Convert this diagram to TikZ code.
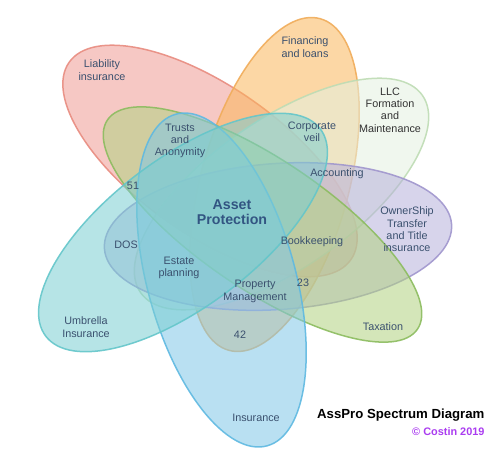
\documentclass[tikz,border=0pt]{standalone}
\usepackage{fontspec}
\setmainfont{Liberation Sans}
\usetikzlibrary{positioning}

\definecolor{lbl}{RGB}{58,80,110}
\definecolor{redF}{RGB}{239,155,148}  \definecolor{redD}{RGB}{232,140,128}
\definecolor{oraF}{RGB}{250,182,91}   \definecolor{oraD}{RGB}{240,172,90}
\definecolor{llcF}{RGB}{228,240,224}  \definecolor{llcD}{RGB}{190,220,180}
\definecolor{purF}{RGB}{182,177,219}  \definecolor{purD}{RGB}{160,150,205}
\definecolor{taxF}{RGB}{177,210,128}  \definecolor{taxD}{RGB}{140,188,95}
\definecolor{bluF}{RGB}{128,199,231}  \definecolor{bluD}{RGB}{95,185,225}
\definecolor{tealF}{RGB}{122,206,210} \definecolor{tealD}{RGB}{100,198,202}
\definecolor{sig}{RGB}{170,60,240}

\begin{document}
\begin{tikzpicture}[x=1pt,y=1pt,
	every node/.style={align=center,text=lbl,font=\fontsize{10.8}{12.4}\selectfont},
	blob/.style={line width=1.5pt,fill opacity=0.55,draw opacity=0.9}]
\useasboundingbox (0,0) rectangle (500,469);

\foreach \cx/\cy/\ang/\rx/\ry/\f/\d in {210/308/-35/172pt/74pt/redF/redD,
	274.5/284.5/74.6/172pt/74pt/oraF/oraD,
	281.5/275/35/172pt/74pt/llcF/llcD,
	278/232.5/4/174pt/73pt/purF/purD,
	262.5/244.5/-34/187pt/65pt/taxF/taxD,
	221.5/189/-74.6/172pt/74pt/bluF/bluD,
	183/236.5/37/172pt/74pt/tealF/tealD}
	\draw[blob,fill=\f,draw=\d,shift={(\cx,\cy)},rotate=\ang] (0,0) ellipse [x radius=\rx,y radius=\ry];

\node (liab) at (102,399) {Liability\\insurance};
\node (fin) at (305,422) {Financing\\and loans};
\node[text=black!80] (llc) at (390,359) {LLC\\Formation\\and\\Maintenance};
\node (own) at (407,239.5) {OwnerShip\\Transfer\\and Title\\insurance};
\node (tax) at (383,142) {Taxation};
\node (ins) at (256,51) {Insurance};
\node (umb) at (86,142) {Umbrella\\Insurance};
\node (trusts) at (180,328) {Trusts\\and\\Anonymity};
\node (veil) at (312,337) {Corporate\\veil};
\node (acct) at (337,295) {Accounting};
\node (book) at (312,227) {Bookkeeping};
\node (estate) at (179,201) {Estate\\planning};
\node (prop) at (255,177.5) {Property\\Management};
\node (dos) at (126,224) {DOS};
\node (n51) at (133,283) {51};
\node (n23) at (303,186) {23};
\node (n42) at (240,134) {42};
\node[font=\fontsize{14.2}{15.5}\selectfont\bfseries,text={rgb,255:red,50;green,85;blue,130}] (asset) at (232,257) {Asset\\Protection};

\node[anchor=east,text=black,font=\fontsize{13.2}{15}\selectfont\bfseries] (title) at (488,54) {AssPro Spectrum Diagram};
\node[anchor=east,text=sig,font=\fontsize{10.9}{12}\selectfont\bfseries] (copy) at (488,37) {© Costin 2019};
\end{tikzpicture}
\end{document}
